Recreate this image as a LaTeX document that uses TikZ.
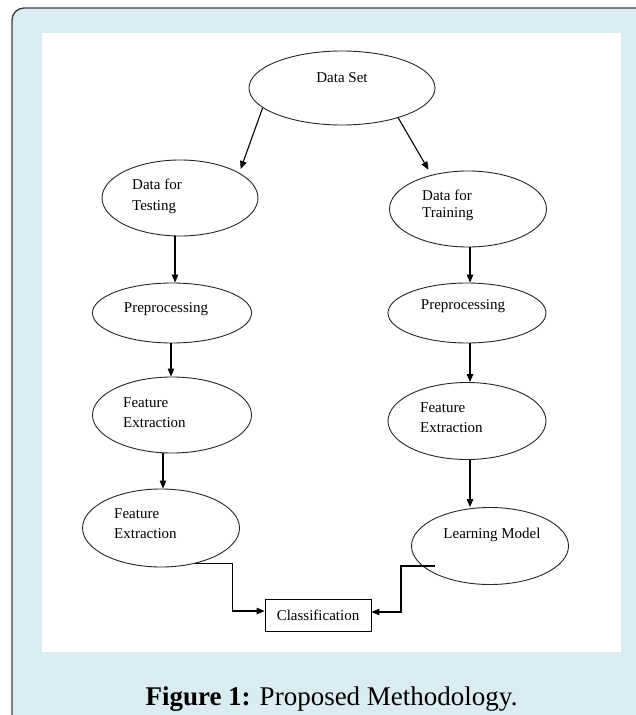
\documentclass[tikz,border=0pt]{standalone}
\usepackage{fontspec}
\setmainfont{Liberation Serif}
\usetikzlibrary{shapes.geometric,arrows.meta,calc}
\definecolor{panelblue}{RGB}{217,236,241}
\definecolor{framegray}{RGB}{60,60,60}
\newcommand{\twoln}[3]{\vtop{\baselineskip=#1\hbox{#2}\hbox{#3}}}
\begin{document}
\begin{tikzpicture}[x=1pt,y=-1pt,
  oval/.style={draw=black!85, line width=0.9pt, ellipse, inner sep=0pt},
  lbl/.style={inner sep=0pt, font=\fontsize{15}{18}\selectfont},
  arr/.style={draw=black, line width=1.1pt, -{Triangle[length=8pt,width=6.5pt]}},
  boxnode/.style={draw=black, line width=0.9pt, rectangle, minimum width=106pt, minimum height=32pt, inner sep=0pt, font=\fontsize{15}{18}\selectfont}]
\useasboundingbox (0,0) rectangle (636,715);
\fill[white] (0,0) rectangle (636,715);
\draw[framegray, line width=1.3pt, fill=panelblue, rounded corners=12pt] (12,8) rectangle (690,770);
\fill[white] (42,33) rectangle (621,652);

% nodes
\node[oval, minimum width=186pt, minimum height=74pt] (ds) at (342,88) {};
\node[oval, minimum width=156pt, minimum height=76pt] (test) at (180,198) {};
\node[oval, minimum width=157pt, minimum height=76pt] (tr) at (468,209) {};
\node[oval, minimum width=159pt, minimum height=60pt] (pl) at (172,313) {};
\node[oval, minimum width=158pt, minimum height=60pt] (pr) at (467,313) {};
\node[oval, minimum width=159pt, minimum height=76pt] (fl) at (172,415) {};
\node[oval, minimum width=158pt, minimum height=77pt] (fr) at (467,421) {};
\node[oval, minimum width=157pt, minimum height=78pt] (fl2) at (161,528) {};
\node[oval, minimum width=157pt, minimum height=77pt] (lm) at (490,546) {};
\node[boxnode] (cls) at (318,615) {Classification};

% labels
\node[lbl, anchor=base] at (342,82.5) {Data Set};
\node[lbl, anchor=base west] at (132,189) {\twoln{21pt}{Data for}{Testing}};
\node[lbl, anchor=base west] at (422,200) {\twoln{17pt}{Data for}{Training}};
\node[lbl, anchor=base] at (166,312) {Preprocessing};
\node[lbl, anchor=base] at (463,309) {Preprocessing};
\node[lbl, anchor=base west] at (123,407) {\twoln{20pt}{Feature}{Extraction}};
\node[lbl, anchor=base west] at (114,518) {\twoln{20pt}{Feature}{Extraction}};
\node[lbl, anchor=base west] at (420,412) {\twoln{20pt}{Feature}{Extraction}};
\node[lbl, anchor=base] at (492,538) {Learning Model};

% helper x positions
\coordinate (xa) at (175,0);
\coordinate (xb) at (171,0);
\coordinate (xc) at (163,0);
\coordinate (xr) at (470,0);
\coordinate (s2) at (435,566);

% connectors
\draw[arr, shorten >=4pt] (ds.194) -- (test.23);
\draw[arr, shorten >=6pt] (ds.332) -- (tr.137);
\draw[arr] (test.south -| xa) -- (pl.north -| xa);
\draw[arr] (pl.south -| xb) -- (fl.north -| xb);
\draw[arr] (fl.south -| xc) -- (fl2.north -| xc);
\draw[arr] (tr.south -| xr) -- (pr.north -| xr);
\draw[arr] (pr.south -| xr) -- (fr.north -| xr);
\draw[arr] (fr.south -| xr) -- (lm.north -| xr);
\draw[arr] (fl2.-46) -- ++(37,0) |- ($(cls.west)+(0,-4)$);
\draw[arr] (s2) -- ++(-34,0) |- ($(cls.east)+(0,-3)$);

% caption
\node[anchor=base, inner sep=0pt, font=\fontsize{27}{30}\selectfont] (cap) at (331.5,705) {\textbf{Figure 1:} Proposed Methodology.};
\end{tikzpicture}
\end{document}
